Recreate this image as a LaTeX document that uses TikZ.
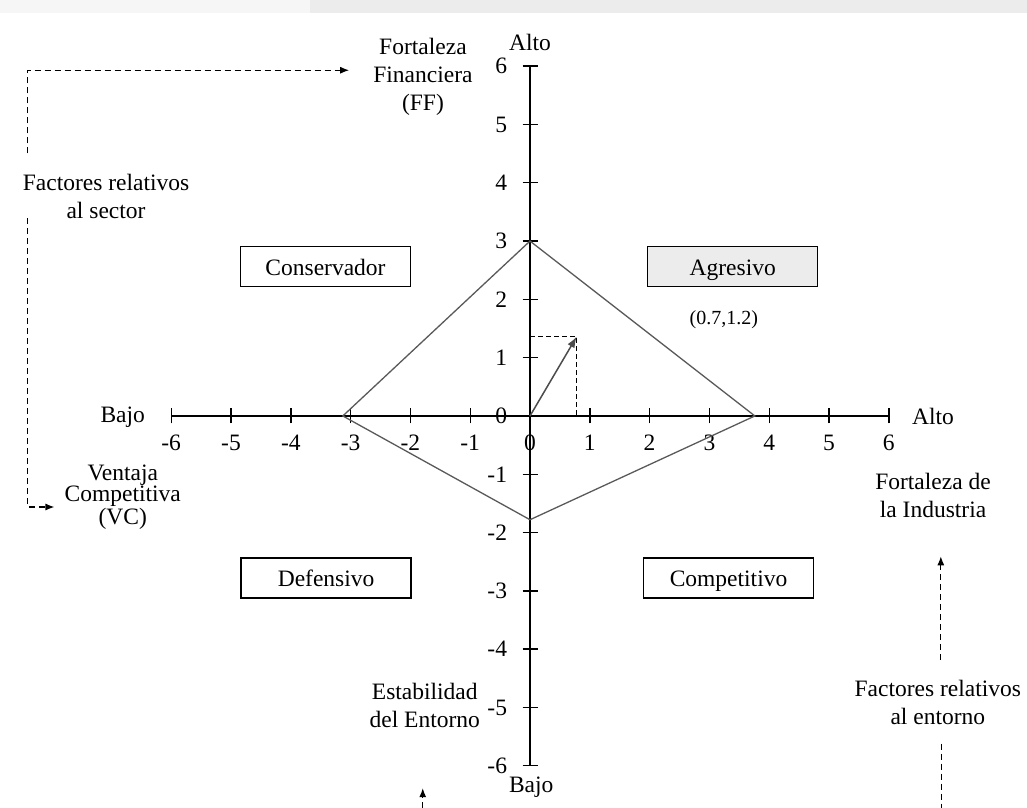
\documentclass[tikz,border=0pt]{standalone}
\usepackage{fontspec}
\setmainfont{Liberation Serif}
\usetikzlibrary{positioning,calc,arrows.meta}

\begin{document}
\begin{tikzpicture}[x=59.8pt, y=58.3pt,
    every node/.style={font=\fontsize{23.5}{28}\selectfont, inner sep=3pt},
    axis/.style={line width=1.6pt},
    tick/.style={line width=1.4pt},
    rhombus/.style={draw=black!65, line width=1.3pt},
    regionbox/.style={draw, line width=1.4pt, minimum width=170pt, minimum height=40pt,
      text height=19pt, text depth=2pt},
    dasharrow/.style={dash pattern=on 6pt off 4pt, line width=1.2pt,
      -{Latex[length=9pt,width=7pt]}},
    vecline/.style={draw=black!70, line width=1.5pt, -{Latex[length=11pt,width=8pt]}},
    guide/.style={dash pattern=on 5pt off 3pt, line width=1.2pt}]

  \useasboundingbox (-8.863,-6.724) rectangle (8.311,7.135);
  \fill[gray!7] (-8.863,6.912) rectangle (-3.68,7.135);
  \fill[gray!15] (-3.68,6.912) rectangle (8.311,7.135);

  % ejes
  \draw[axis] (-6,0) -- (6,0);
  \draw[axis] (0,-6) -- (0,6);
  \foreach \i in {-6,...,6} {
    \draw[tick] (\i,0) ++(0,-7.5pt) -- ++(0,15pt);
    \draw[tick] (0,\i) ++(-7.5pt,0) -- ++(15pt,0);
    \node (xl\i) at (\i,-0.463) {\i};
    \node[anchor=east] (yl\i) at (-0.33,\i) {\i};
  };
  \node (altoy) at (0,6.41) {Alto};
  \node (bajoy) at (0.02,-6.36) {Bajo};
  \node (bajox) at (-6.81,-0.03) {Bajo};
  \node (altox) at (6.74,0) {Alto};

  % poligono y vector
  \draw[rhombus] (0,3) -- (3.76,0) -- (0,-1.78) -- (-3.13,0) -- cycle;
  \coordinate (o) at (0,0);
  \coordinate (p) at (0.78,1.36);
  \draw[guide] (o |- p) -- (p) -- (p |- o);
  \draw[vecline] (o) -- (p);
  \node[font=\fontsize{20}{24}\selectfont] (vlab) at (3.24,1.65) {(0.7,1.2)};

  % cuadrantes
  \node[regionbox] (cons) at (-3.42,2.56) {Conservador};
  \node[regionbox, fill=gray!15] (agr) at (3.39,2.56) {Agresivo};
  \node[regionbox] (def) at (-3.41,-2.78) {Defensivo};
  \node[regionbox] (comp) at (3.32,-2.78) {Competitivo};

  % rotulos
  \node[align=center] (ff) at (-1.79,5.81) {Fortaleza\\Financiera\\(FF)};
  \node[align=center] (sector) at (-7.09,3.76) {Factores relativos\\al sector};
  \node[align=center, font=\fontsize{23.5}{19}\selectfont] (vc) at (-6.81,-1.39)
    {Ventaja\\Competitiva\\(VC)};
  \node[align=center] (ind) at (6.74,-1.37) {Fortaleza de\\la Industria};
  \node[align=center] (ent) at (6.82,-4.91) {Factores relativos\\al entorno};
  \node[align=center] (est) at (-1.76,-4.97) {Estabilidad\\del Entorno};

  % flechas
  \draw[dasharrow] ([xshift=8pt,yshift=18pt]sector.north west)
    |- ([xshift=-21pt,yshift=7pt]ff.west);
  \draw[dasharrow] ([xshift=8pt,yshift=4pt]sector.south west)
    |- ([xshift=-7pt,yshift=-10pt]vc.west);
  \draw[dasharrow] ($(ent.north)+(3pt,17pt)$) -- ($(ent.north |- ind.south)+(3pt,-35pt)$);
  \begin{scope}
    \clip (-8.863,-6.724) rectangle (8.311,7.135);
    \draw[dasharrow] ($(ent.south)+(4pt,-16pt)$) |- ($(est.south)+(-2pt,-140pt)$)
      -- ($(est.south)+(-2pt,-57pt)$);
  \end{scope}
\end{tikzpicture}
\end{document}
